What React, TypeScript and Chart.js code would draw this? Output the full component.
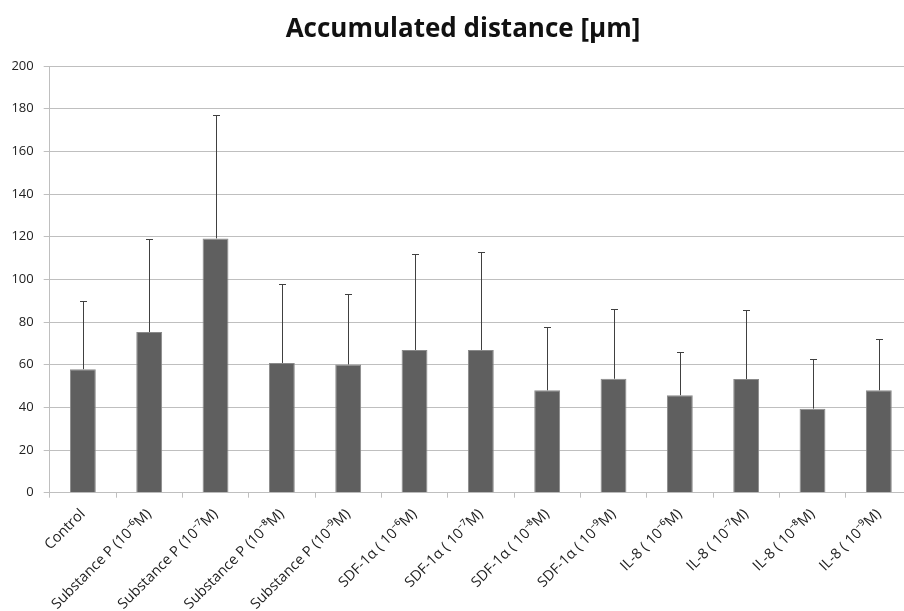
import React, { useEffect, useRef } from "react";
import { Chart, registerables } from "chart.js";

Chart.register(...registerables);

const titleText = "Accumulated distance [μm]";
const categories = [
  "Control",
  "Substance P (10⁻⁶M)",
  "Substance P (10⁻⁷M)",
  "Substance P (10⁻⁸M)",
  "Substance P (10⁻⁹M)",
  "SDF-1α ( 10⁻⁶M)",
  "SDF-1α ( 10⁻⁷M)",
  "SDF-1α ( 10⁻⁸M)",
  "SDF-1α ( 10⁻⁹M)",
  "IL-8 ( 10⁻⁶M)",
  "IL-8 ( 10⁻⁷M)",
  "IL-8 ( 10⁻⁸M)",
  "IL-8 ( 10⁻⁹M)",
];
const means = [57.9, 75.3, 119.2, 60.8, 60.1, 66.9, 66.9, 48.0, 53.4, 45.7, 53.3, 39.4, 48.0];
const errors = [32.0, 43.4, 58.0, 37.0, 33.0, 44.8, 46.0, 29.5, 32.7, 20.4, 32.3, 23.4, 24.2];
const yTicks = [0, 20, 40, 60, 80, 100, 120, 140, 160, 180, 200];

const FONT = "'Open Sans', 'Noto Sans CJK KR', sans-serif";
const W = 925;
const H = 611;

const titlePlugin = {
  id: "customTitle",
  afterDraw(chart: any) {
    const ctx = chart.ctx;
    ctx.save();
    ctx.fillStyle = "#111";
    ctx.font = `bold 26px ${FONT}`;
    ctx.textAlign = "center";
    ctx.textBaseline = "middle";
    ctx.fillText(titleText, 463, 30);
    ctx.restore();
  },
};

const errorBarPlugin = {
  id: "errorBars",
  afterDatasetsDraw(chart: any) {
    const ctx = chart.ctx;
    const meta = chart.getDatasetMeta(0);
    const yScale = chart.scales.y;
    ctx.save();
    ctx.strokeStyle = "#404040";
    ctx.lineWidth = 1;
    meta.data.forEach((bar: any, i: number) => {
      const x = Math.round(bar.x) + 0.5;
      const yBase = bar.y;
      const yTop = Math.round(yScale.getPixelForValue(means[i] + errors[i])) + 0.5;
      ctx.beginPath();
      ctx.moveTo(x, yBase);
      ctx.lineTo(x, yTop);
      ctx.moveTo(x - 3.5, yTop);
      ctx.lineTo(x + 3.5, yTop);
      ctx.stroke();
    });
    ctx.restore();
  },
};

export default function App() {
  const ref = useRef<HTMLCanvasElement | null>(null);
  useEffect(() => {
    if (!ref.current) return;
    const chart = new Chart(ref.current, {
      type: "bar",
      data: {
        labels: categories,
        datasets: [
          {
            data: means,
            backgroundColor: "#5f5f5f",
            borderColor: "#8a8a8a",
            borderWidth: 1,
            categoryPercentage: 1,
            barPercentage: 0.39,
          },
        ],
      },
      options: {
        responsive: false,
        maintainAspectRatio: false,
        animation: false,
        layout: { padding: { left: 0, right: 13, top: 66, bottom: 0 } },
        plugins: {
          legend: { display: false },
          tooltip: { enabled: false },
          title: { display: false },
        },
        scales: {
          x: {
            offset: true,
            grid: {
              offset: true,
              drawOnChartArea: false,
              drawTicks: true,
              tickLength: 5,
              color: "#bfbfbf",
            },
            border: { display: true, color: "#bfbfbf", width: 1 },
            ticks: {
              autoSkip: false,
              maxRotation: 45,
              minRotation: 45,
              color: "#222",
              padding: 8,
              font: { family: FONT, size: 14.5 },
            },
            afterFit(scale: any) {
              scale.height = H - 492.7;
            },
          },
          y: {
            min: 0,
            max: 200,
            afterBuildTicks(scale: any) {
              scale.ticks = yTicks.map((v) => ({ value: v }));
            },
            grid: {
              color: "#bfbfbf",
              drawTicks: true,
              tickLength: 6,
            },
            border: { display: true, color: "#bfbfbf", width: 1 },
            ticks: {
              color: "#222",
              padding: 10,
              font: { family: FONT, size: 13 },
            },
            afterFit(scale: any) {
              scale.width = 49.7;
            },
          },
        },
      },
      plugins: [errorBarPlugin, titlePlugin],
    });
    return () => chart.destroy();
  }, []);

  return (
    <div
      style={{
        position: "fixed",
        left: 0,
        top: 0,
        width: 904,
        height: 611,
        overflow: "hidden",
        background: "#fff",
      }}
    >
      <canvas ref={ref} width={W} height={H} style={{ display: "block" }} />
    </div>
  );
}
